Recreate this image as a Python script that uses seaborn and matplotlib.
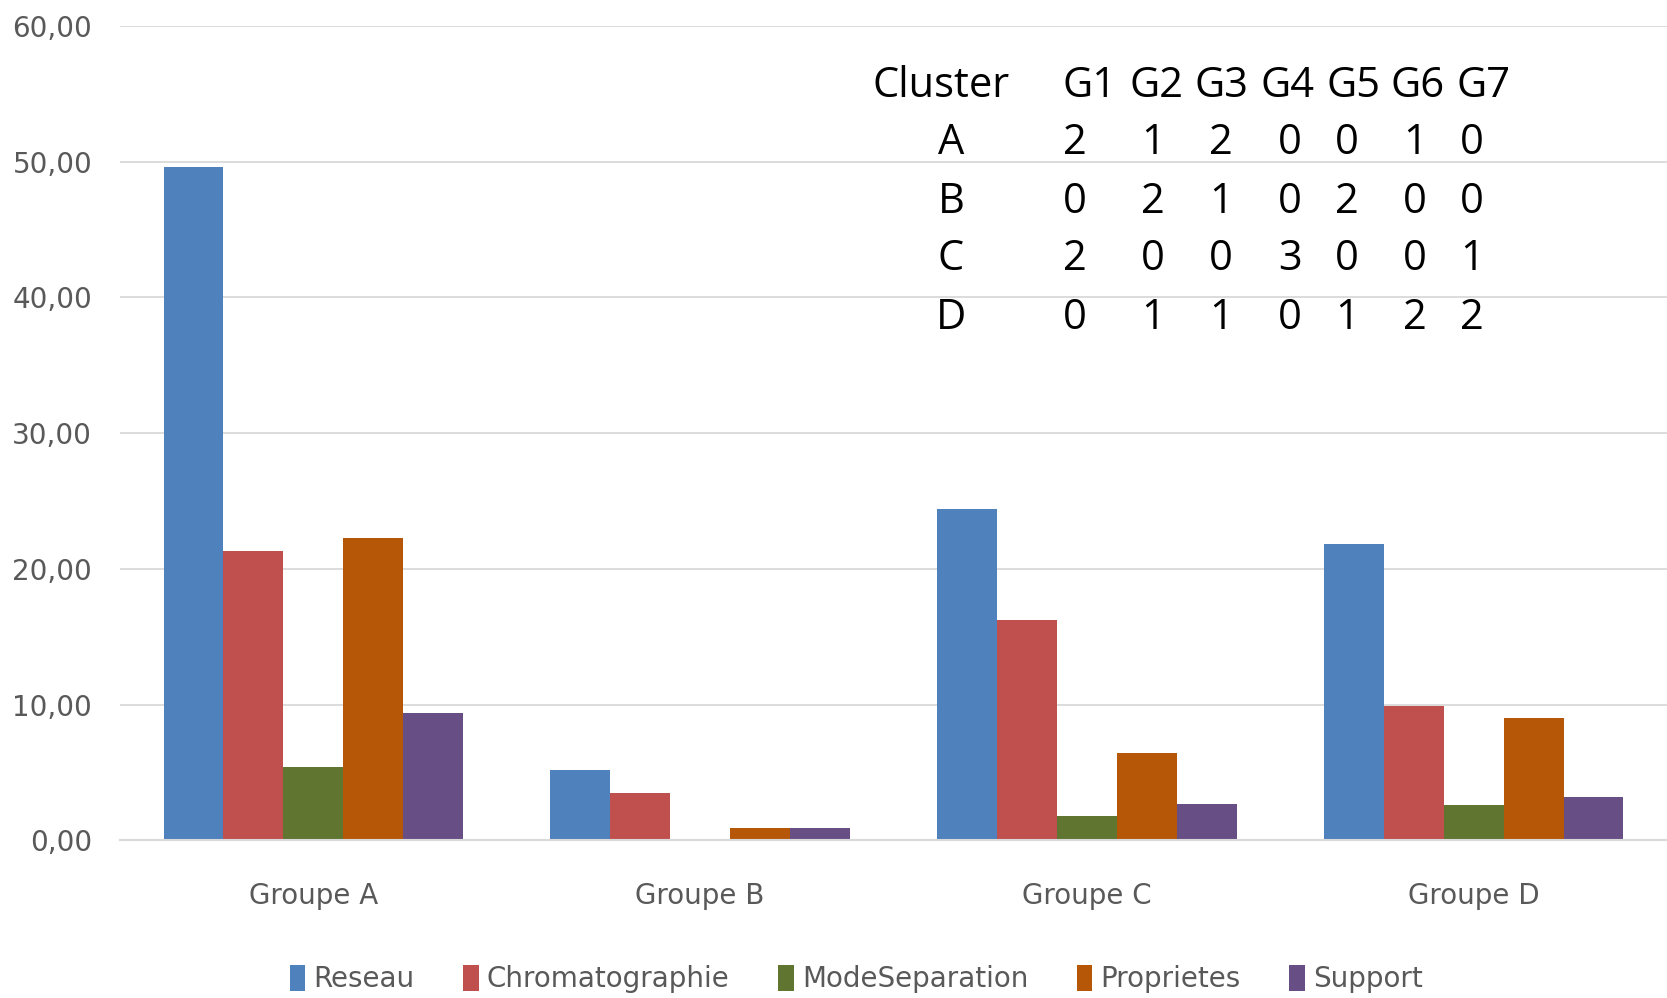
import pandas as pd
import numpy as np
import matplotlib
matplotlib.use("Agg")
import matplotlib.pyplot as plt
import matplotlib.ticker as mticker
import seaborn as sns

# ── data ──────────────────────────────────────────────────────────────────────
groupes  = ["Groupe A", "Groupe B", "Groupe C", "Groupe D"]
criteres = ["Reseau", "Chromatographie", "ModeSeparation", "Proprietes", "Support"]
reseau          = [49.6, 5.2, 24.4, 21.8]
chromatographie = [21.3, 3.5, 16.2, 9.9]
mode_separation = [5.4, 0.0, 1.8, 2.6]
proprietes      = [22.3, 0.9, 6.4, 9.0]
support         = [9.4, 0.9, 2.7, 3.2]

# cluster table (text annotation)
table_cols = ["G1", "G2", "G3", "G4", "G5", "G6", "G7"]
table_rows = ["A", "B", "C", "D"]
table_A = [2, 1, 2, 0, 0, 1, 0]
table_B = [0, 2, 1, 0, 2, 0, 0]
table_C = [2, 0, 0, 3, 0, 0, 1]
table_D = [0, 1, 1, 0, 1, 2, 2]

# ── palette ───────────────────────────────────────────────────────────────────
COLORS = ["#4F81BD", "#C0504D", "#5F7530", "#B65708", "#674F86"]
GRID   = "#D9D9D9"
TXT    = "#595959"

sns.set_theme(style="white")
plt.rcParams["font.family"] = ["DejaVu Sans"]

series = [reseau, chromatographie, mode_separation, proprietes, support]
df = pd.DataFrame({
    "groupe": np.repeat(groupes, len(criteres)).tolist(),
    "critere": criteres * len(groupes),
    "valeur": [series[j][i] for i in range(len(groupes)) for j in range(len(criteres))],
})

fig = plt.figure(figsize=(16.67, 9.98), dpi=100)
ax = fig.add_axes([0.072, 0.158, 0.928, 0.816])

sns.barplot(data=df, x="groupe", y="valeur", hue="critere", hue_order=criteres,
            palette=COLORS, saturation=1, width=0.775, ax=ax, errorbar=None,
            edgecolor="none")

ax.set_ylim(0, 60)
ax.set_xlim(-0.5, 3.5)
ax.yaxis.set_major_locator(mticker.MultipleLocator(10))
ax.yaxis.set_major_formatter(mticker.FuncFormatter(lambda v, p: f"{v:.2f}".replace(".", ",")))
ax.grid(axis="y", color=GRID, linewidth=1.3)
ax.set_axisbelow(True)
for s in ["top", "right", "left"]:
    ax.spines[s].set_visible(False)
ax.spines["bottom"].set_color(GRID)
ax.spines["bottom"].set_linewidth(1.5)
ax.tick_params(axis="y", length=0, labelsize=20, labelcolor=TXT, pad=20)
ax.tick_params(axis="x", length=0, labelsize=20, labelcolor=TXT, pad=30)
ax.set_xlabel(""); ax.set_ylabel("")

ax.legend(loc="upper center", bbox_to_anchor=(0.476, -0.122), ncol=5, frameon=False,
          fontsize=20, labelcolor=TXT, handlelength=0.55, handleheight=1.1,
          handletextpad=0.3, columnspacing=1.75)

# ── cluster table ─────────────────────────────────────────────────────────────
def fx(px):
    return px / 1667
def fy(py):
    return 1 - py / 998

tfont = dict(fontsize=30, color="black", family=["Open Sans", "DejaVu Sans"],
             va="center", transform=fig.transFigure)
head_x = [1090, 1156, 1221, 1287, 1353, 1418, 1484]
val_x  = [1075, 1153, 1221, 1290, 1347, 1415, 1472]
head_y = 86
row_y  = [143, 202, 259, 318]
fig.text(fx(872), fy(head_y), "Cluster", ha="left", **tfont)
for k, c in enumerate(table_cols):
    fig.text(fx(head_x[k]), fy(head_y), c, ha="center", **tfont)
for r, (lab, vals) in enumerate(zip(table_rows, [table_A, table_B, table_C, table_D])):
    fig.text(fx(951), fy(row_y[r]), lab, ha="center", **tfont)
    for k, v in enumerate(vals):
        fig.text(fx(val_x[k]), fy(row_y[r]), str(v), ha="center", **tfont)

plt.savefig("out.png", dpi=100)
plt.close()
